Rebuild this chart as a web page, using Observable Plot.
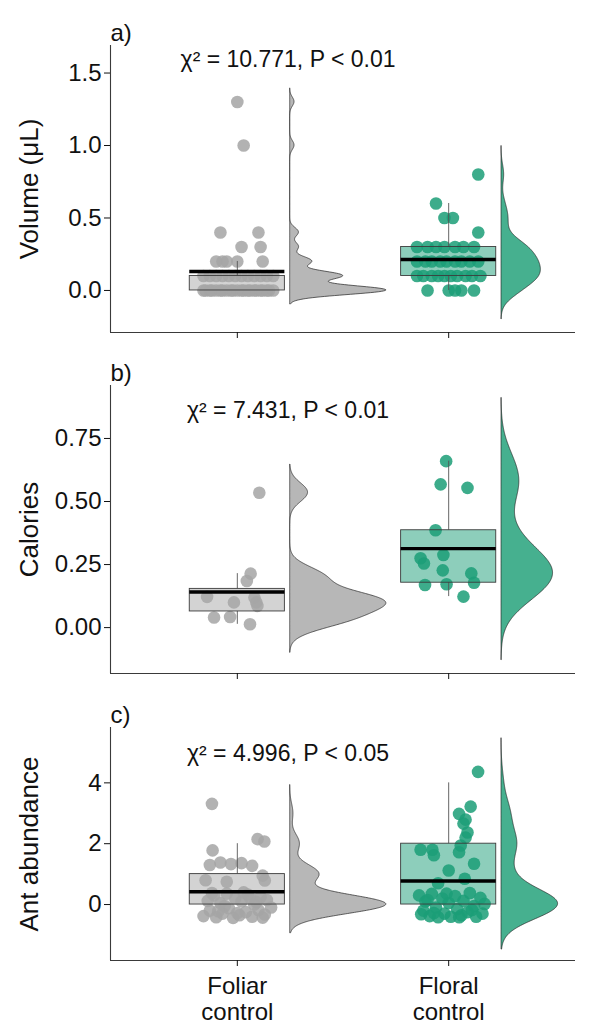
<!DOCTYPE html>
<html><head><meta charset="utf-8">
<script src="https://cdn.jsdelivr.net/npm/d3@7"></script>
<script src="https://cdn.jsdelivr.net/npm/@observablehq/plot@0.6"></script>
<style>
body{margin:0;background:#fff;}
#chart{width:593px;}
#chart svg{display:block;overflow:visible;}
</style></head><body><div id="chart"></div>
<script>
// ---------- data ----------
const groups = ["Foliar control", "Floral control"];
const xTickLabels = ["Foliar\ncontrol", "Floral\ncontrol"];
const panelTags = ["a)", "b)", "c)"];
const yTitles = ["Volume (\u03bcL)", "Calories", "Ant abundance"];
const statLabels = ["\u03c7\u00b2 = 10.771, P < 0.01", "\u03c7\u00b2 = 7.431, P < 0.01", "\u03c7\u00b2 = 4.996, P < 0.05"];
const statX = [1.24, 1.24, 1.24];
const statY = [1.59, 0.86, 4.96];
const yTicksA = [0, 0.5, 1, 1.5];
const yTicksB = [0, 0.25, 0.5, 0.75];
const yTicksC = [0, 2, 4];

// a) volume
const volFoliar = [1.3, 1.0, 0.4, 0.4, 0.3, 0.3, 0.2, 0.2, 0.2, 0.2, 0.2,
  0.1, 0.1, 0.1, 0.1, 0.1, 0.1, 0.1, 0.1, 0.1, 0.1, 0.1, 0.1,
  0, 0, 0, 0, 0, 0, 0, 0, 0, 0, 0, 0, 0, 0, 0, 0, 0, 0, 0, 0, 0, 0];
const volFoliarJx = [0.00, 0.03, -0.08, 0.10, 0.02, 0.11, -0.10, -0.07, -0.05, 0.00, 0.12,
  -0.16, -0.13, -0.10, -0.07, -0.04, -0.01, 0.02, 0.05, 0.08, 0.11, 0.14, 0.17,
  -0.16, -0.15, -0.13, -0.12, -0.10, -0.08, -0.07, -0.05, -0.03, -0.02, 0.00, 0.02, 0.03, 0.05, 0.06, 0.08, 0.09, 0.11, 0.12, 0.14, 0.15, 0.17];
const volFloral = [0.8, 0.6, 0.5, 0.5, 0.4,
  0.3, 0.3, 0.3, 0.3, 0.3, 0.3, 0.3,
  0.2, 0.2, 0.2, 0.2, 0.2, 0.2, 0.2, 0.2, 0.2,
  0.1, 0.1, 0.1, 0.1, 0.1, 0.1, 0.1, 0.1, 0.1, 0.1,
  0, 0, 0, 0, 0];
const volFloralJx = [0.14, -0.06, -0.02, 0.02, 0.14,
  -0.15, -0.10, -0.06, -0.02, 0.03, 0.07, 0.12,
  -0.15, -0.11, -0.08, -0.04, -0.01, 0.03, 0.06, 0.10, 0.14,
  -0.15, -0.12, -0.08, -0.05, -0.02, 0.01, 0.04, 0.08, 0.11, 0.15,
  -0.10, 0.00, 0.03, 0.06, 0.12];

// b) calories
const calFoliar = [0.535, 0.214, 0.185, 0.122, 0.100, 0.119, 0.100, 0.086, 0.040, 0.042, 0.013];
const calFoliarJx = [0.104, 0.063, 0.045, -0.143, -0.016, 0.081, 0.09, 0.095, -0.11, -0.034, 0.06];
const calFloral = [0.660, 0.568, 0.554, 0.386, 0.275, 0.254, 0.288, 0.227, 0.215, 0.178, 0.169, 0.172, 0.123];
const calFloralJx = [-0.012, -0.038, 0.089, -0.062, -0.133, -0.117, -0.025, -0.028, 0.107, 0.12, -0.112, -0.01, 0.07];

// c) ant abundance (counts, shown with jitter)
const antFoliar = [3, 2, 2, 2, 1, 1, 1, 1, 1, 1, 1, 1, 1,
  0, 0, 0, 0, 0, 0, 0, 0, 0, 0, 0, 0, 0, 0, 0, 0, 0, 0, 0, 0, 0, 0, 0, 0, 0, 0, 0, 0, 0, 0];
const antFoliarJx = [-0.12, 0.096, 0.128, -0.117,
  -0.13, -0.08, -0.03, 0.02, 0.07, -0.15, 0.12, -0.05, 0.13,
  -0.16, -0.14, -0.13, -0.11, -0.10, -0.08, -0.07, -0.05, -0.04, -0.02, -0.01, 0.01, 0.02, 0.04, 0.05, 0.07, 0.08, 0.10, 0.11, 0.13, 0.14, 0.16, -0.12, -0.06, 0.00, 0.06, 0.12, -0.09, 0.03, 0.09];
const antFoliarJy = [0.31, 0.15, 0.07, -0.22,
  0.30, 0.38, 0.33, 0.36, 0.27, -0.20, -0.05, -0.25, -0.21,
  -0.38, 0.12, -0.20, 0.30, -0.42, 0.05, -0.30, 0.36, -0.12, -0.44, 0.20, -0.35, 0.10, -0.25, 0.33, -0.40, 0.00, -0.18, 0.25, -0.33, 0.15, -0.10, 0.38, -0.05, -0.28, 0.22, -0.43, -0.22, 0.40, 0.08];
const antFloral = [4, 3, 3, 3, 3, 2, 2, 2, 2, 2, 2, 2, 1, 1, 1, 1,
  0, 0, 0, 0, 0, 0, 0, 0, 0, 0, 0, 0, 0, 0, 0, 0, 0, 0, 0, 0, 0, 0, 0, 0, 0, 0, 0, 0];
const antFloralJx = [0.139, 0.104, 0.049, 0.08, 0.07,
  0.089, 0.08, 0.057, 0.049, -0.133, -0.077, -0.07,
  0.12, 0.00, 0.076, -0.05,
  -0.14, -0.12, -0.11, -0.09, -0.08, -0.06, -0.05, -0.03, -0.02, 0.00, 0.01, 0.03, 0.04, 0.06, 0.07, 0.09, 0.10, 0.12, 0.13, 0.15, 0.17, -0.13, -0.07, -0.01, 0.05, 0.11, 0.16, -0.10];
const antFloralJy = [0.36, 0.22, -0.02, -0.21, -0.34,
  0.37, 0.20, -0.06, -0.28, -0.20, -0.20, -0.38,
  0.34, 0.12, -0.15, -0.30,
  0.30, -0.20, 0.10, -0.38, 0.35, -0.10, -0.42, 0.20, -0.30, 0.05, -0.40, 0.28, -0.15, -0.35, 0.12, -0.25, 0.38, -0.05, -0.40, 0.22, 0.02, -0.32, -0.28, 0.36, -0.42, -0.18, -0.30, 0.15];

// ---------- styles ----------
const FONT = "'Liberation Sans', Arial, Helvetica, sans-serif";
const TEXT = "#111";
const AXIS = "#3a3a3a";
const pointFill = ["#a5a5a5", "#1b9e77"];
const boxFill = ["#a8a8a8", "#1b9e77"];
const densFill = ["#b7b7b7", "#46b08f"];
const BOX_HALF = 0.225, DENS_OFFSET = 0.25, DENS_WIDTH = 0.455;

// ---------- stats ----------
function nrd0(v) {
  const s = d3.deviation(v);
  const iqr = d3.quantile(v, 0.75) - d3.quantile(v, 0.25);
  let lo = Math.min(s, iqr / 1.34);
  if (!(lo > 0)) lo = s || 1;
  return 0.9 * lo * Math.pow(v.length, -0.2);
}
function kde(v) {
  const bw = nrd0(v);
  const lo = d3.min(v) - 3 * bw, hi = d3.max(v) + 3 * bw, N = 512;
  const k = 1 / (v.length * bw * Math.sqrt(2 * Math.PI));
  return d3.range(N).map(i => {
    const y = lo + (hi - lo) * i / (N - 1);
    let s = 0;
    for (const x of v) { const z = (y - x) / bw; s += Math.exp(-0.5 * z * z); }
    return {y, d: s * k};
  });
}
function boxStats(v, g) {
  const q1 = d3.quantile(v, 0.25), q3 = d3.quantile(v, 0.75), iqr = q3 - q1;
  return {
    x: g + 1, x1: g + 1 - BOX_HALF, x2: g + 1 + BOX_HALF, q1, q3,
    lo: d3.min(v.filter(x => x >= q1 - 1.5 * iqr)),
    hi: d3.max(v.filter(x => x <= q3 + 1.5 * iqr)),
    mean: d3.mean(v)
  };
}

function panel(i, cfg) {
  const {vals, jx, jy, yDomain, yTicks, yFormat, height, marginTop, marginBottom, showLabels} = cfg;
  const pts = vals.map((v, g) => v.map((y, k) => ({x: g + 1 + jx[g][k], y: y + (jy ? jy[g][k] : 0)})));
  const boxes = vals.map((v, g) => boxStats(v, g));
  const dens = vals.map(v => kde(v));
  const dmax = d3.max(dens.flat(), d => d.d);
  const marks = [];
  vals.forEach((v, g) => marks.push(Plot.dot(pts[g], {x: "x", y: "y", r: 6.3, fill: pointFill[g], fillOpacity: 0.85, stroke: "none"})));
  boxes.forEach((b, g) => {
    marks.push(Plot.ruleX([b], {x: "x", y1: "q3", y2: "hi", stroke: "#555", strokeWidth: 0.9}));
    marks.push(Plot.ruleX([b], {x: "x", y1: "lo", y2: "q1", stroke: "#555", strokeWidth: 0.9}));
    marks.push(Plot.rect([b], {x1: "x1", x2: "x2", y1: "q1", y2: "q3", fill: boxFill[g], fillOpacity: 0.5, stroke: "#3c3c3c", strokeWidth: 0.9}));
    marks.push(Plot.ruleY([b], {y: "mean", x1: "x1", x2: "x2", stroke: "#000", strokeWidth: 3.4}));
  });
  dens.forEach((dd, g) => marks.push(Plot.areaX(dd, {
    y: "y", x1: () => g + 1 + DENS_OFFSET, x2: d => g + 1 + DENS_OFFSET + DENS_WIDTH * d.d / dmax,
    fill: densFill[g], stroke: "#222", strokeWidth: 0.7, curve: "linear"
  })));
  marks.push(Plot.ruleX([0.4], {stroke: AXIS, strokeWidth: 1.1}));
  marks.push(Plot.ruleY([yDomain[0]], {stroke: AXIS, strokeWidth: 1.1}));
  marks.push(Plot.axisY(yTicks, {tickSize: 6, tickPadding: 3, fontSize: 24, tickFormat: yFormat, label: null, color: TEXT}));
  marks.push(Plot.axisX([1, 2], {tickSize: 6, tickPadding: 9, fontSize: 24, lineHeight: 1.08, label: null, color: TEXT,
    tickFormat: showLabels ? (d => xTickLabels[d - 1]) : (() => "")}));
  marks.push(Plot.text([yTitles[i]], {frameAnchor: "left", dx: -81, rotate: -90, fontSize: 26, textAnchor: "middle", fill: TEXT}));
  marks.push(Plot.text([panelTags[i]], {frameAnchor: "top-left", dy: -22, fontSize: 24, textAnchor: "start", fill: TEXT}));
  marks.push(Plot.text([statLabels[i]], {x: () => statX[i], y: () => statY[i], fontSize: 23, textAnchor: "middle", fill: TEXT}));
  return Plot.plot({
    width: 593, height, marginLeft: 110, marginRight: 18, marginTop, marginBottom,
    style: {fontFamily: FONT, color: TEXT, background: "#fff"},
    x: {domain: [0.4, 2.6], axis: null},
    y: {domain: yDomain, axis: null},
    marks
  });
}

const chart = document.getElementById("chart");
chart.append(panel(0, {vals: [volFoliar, volFloral], jx: [volFoliarJx, volFloralJx], yDomain: [-0.29, 1.69], yTicks: yTicksA, yFormat: d3.format(".1f"), height: 345, marginTop: 45, marginBottom: 13}));
chart.append(panel(1, {vals: [calFoliar, calFloral], jx: [calFoliarJx, calFloralJx], yDomain: [-0.182, 0.96], yTicks: yTicksB, yFormat: d3.format(".2f"), height: 340, marginTop: 40, marginBottom: 12}));
chart.append(panel(2, {vals: [antFoliar, antFloral], jx: [antFoliarJx, antFloralJx], jy: [antFoliarJy, antFloralJy], yDomain: [-1.84, 5.82], yTicks: yTicksC, yFormat: d3.format("d"), height: 338, marginTop: 42, marginBottom: 63, showLabels: true}));
</script></body></html>
